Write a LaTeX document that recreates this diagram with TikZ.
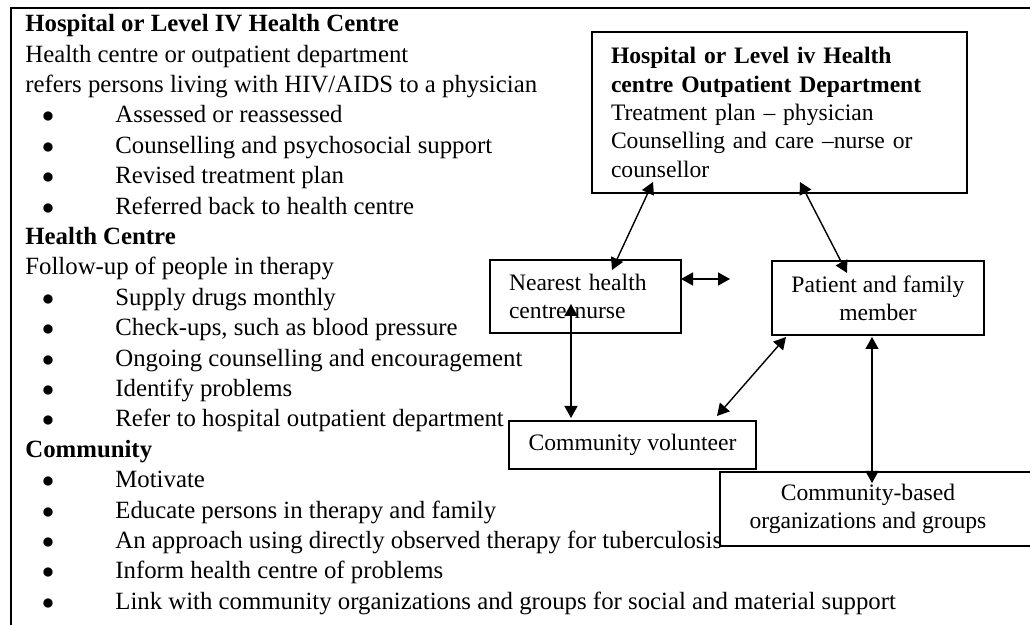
\documentclass[tikz,border=0pt]{standalone}
\usepackage{fontspec}
\setmainfont{Liberation Serif}
\usepackage{tikz}
\usetikzlibrary{arrows.meta,positioning,calc}

\newcommand{\listfont}{\fontsize{12.4pt}{15.2pt}\selectfont}
\newcommand{\diagfont}{\fontsize{11.8pt}{14.15pt}\selectfont}
\newcommand{\bitem}{\makebox[45pt][l]{\hspace*{8.4pt}$\bullet$}}

\begin{document}
\begin{tikzpicture}[x = .5pt, y = -.5pt,
    box/.style = {draw, line width = 1pt, inner sep = 0pt, font = \diagfont},
    link/.style = {{Triangle[length=6pt,width=6.5pt]}-{Triangle[length=6pt,width=6.5pt]}, line width = .7pt}]
\useasboundingbox (0,0) rectangle (1030,625);
\clip (0,0) rectangle (1030,625);

% frame round the notes
\draw[line width = 1pt] (11,625) -- (11,8) -- (1040,8);

% notes on the left
\node (notes) [anchor = north west, align = left, inner sep = 0pt, font = \listfont] at (25,14) {%
\textbf{Hospital or Level IV Health Centre}\\
Health centre or outpatient department\\
refers persons living with HIV/AIDS to a physician\\
\bitem Assessed or reassessed\\
\bitem Counselling and psychosocial support\\
\bitem Revised treatment plan\\
\bitem Referred back to health centre\\
\textbf{Health Centre}\\
Follow-up of people in therapy\\
\bitem Supply drugs monthly\\
\bitem Check-ups, such as blood pressure\\
\bitem Ongoing counselling and encouragement\\
\bitem Identify problems\\
\bitem Refer to hospital outpatient department\\
\textbf{Community}\\
\bitem Motivate\\
\bitem Educate persons in therapy and family\\
\bitem An approach using directly observed therapy for tuberculosis\\
\bitem Inform health centre of problems\\
\bitem Link with community organizations and groups for social and material support};

% boxes
\node (hosp) [box, anchor = north west, inner xsep = 9.5pt, text width = 168.5pt, minimum height = 80.5pt, align = left] at (591,31)
  {\textbf{Hospital or Level iv Health}\\ \textbf{centre Outpatient Department}\\ Treatment plan -- physician\\ Counselling and care --nurse or\\ counsellor};
\node (nurse) [box, anchor = north west, inner xsep = 9.5pt, text width = 76.5pt, minimum height = 36.5pt, align = left] at (489,259)
  {Nearest health\\ centre nurse};
\node (patient) [box, anchor = north west, minimum width = 106pt, minimum height = 37pt, align = center] at (771,260)
  {Patient and family\\ member};
\node (vol) [box, anchor = north west, minimum width = 123.5pt, minimum height = 24pt] at (508,420)
  {Community volunteer};
\node (cbo) [box, anchor = north west, minimum height = 37pt] at (719,471)
  {\parbox{148pt}{\centering Community-based\\ organizations and groups}\hspace{60pt}\mbox{}};
\coordinate (gap) at (730,279);

% links
\draw[link] ($(hosp.south west)+(62,-12)$) -- ($(nurse.north west)+(123,11)$);
\draw[link] ($(hosp.south west)+(209,-12)$) -- ($(patient.north west)+(76,13)$);
\draw[link] ($(nurse.north east)+(-1,20)$) -- (gap);
\draw[link] ($(nurse.south west)+(82,-30)$) -- ($(vol.north west)+(63,-2)$);
\draw[link] ($(vol.north west)+(209,-4)$) -- ($(patient.south west)+(15,1)$);
\draw[link] ($(patient.south west)+(101,1)$) -- ($(cbo.north west)+(153,12)$);
\end{tikzpicture}
\end{document}
